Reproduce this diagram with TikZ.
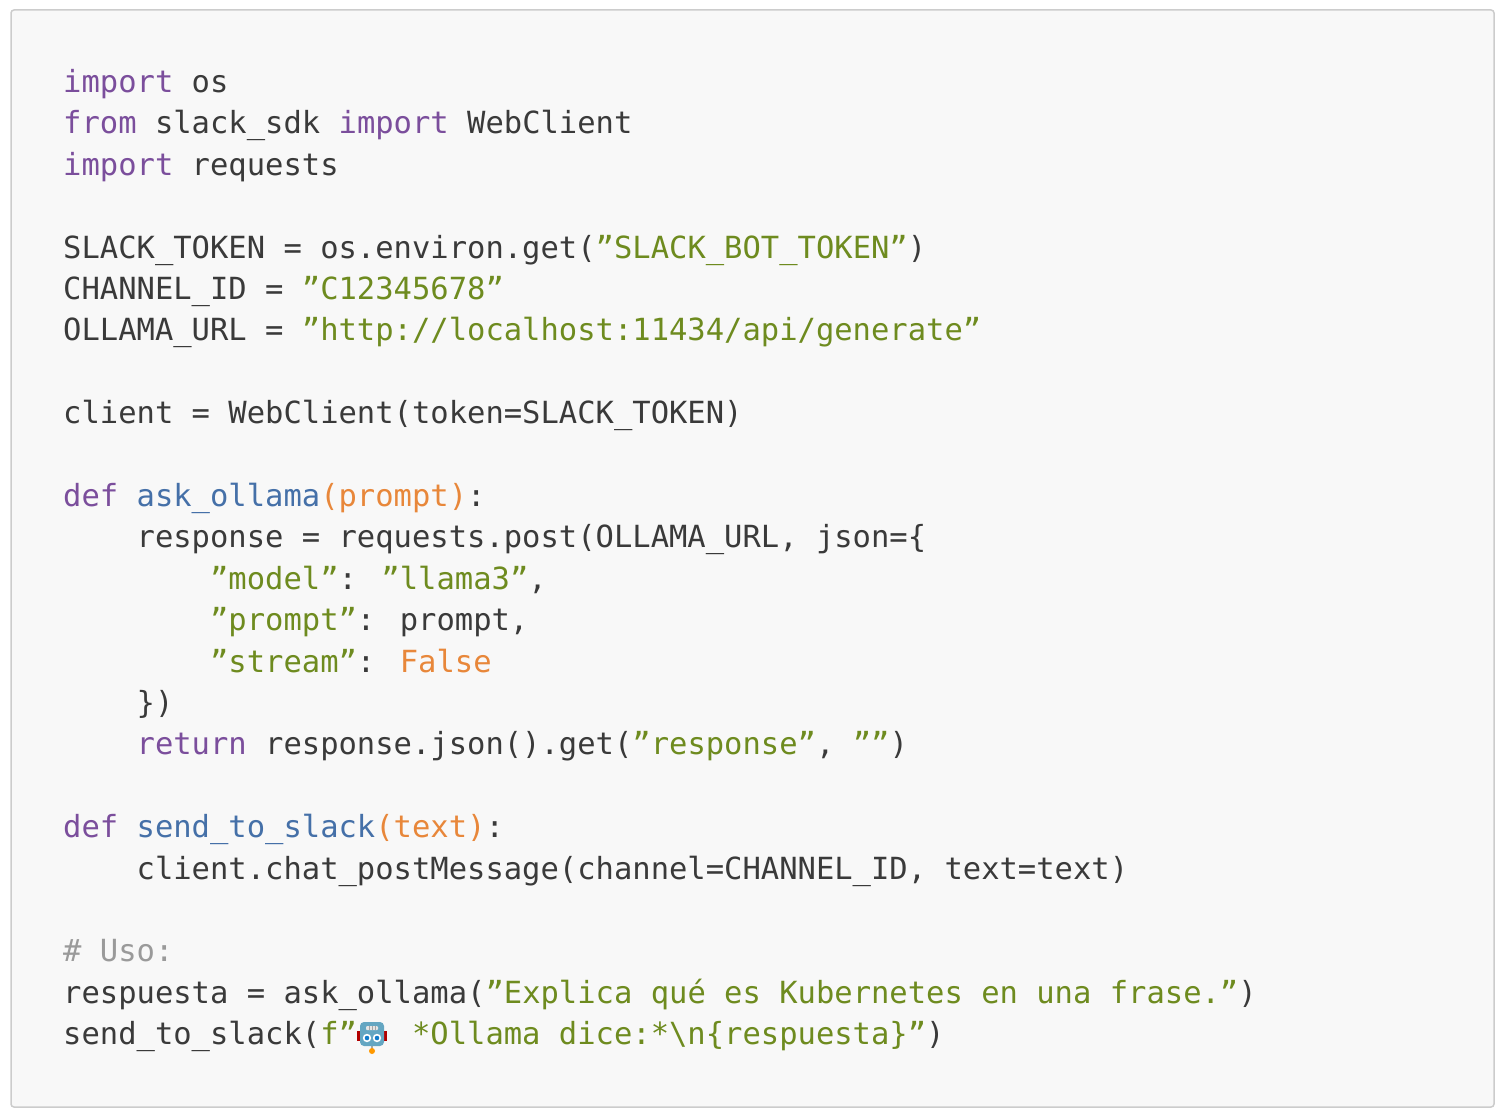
\documentclass[tikz,border=0pt]{standalone}
\usepackage{fontspec}
\setmainfont{DejaVu Sans Mono}
\definecolor{bgc}{HTML}{F8F8F8}
\definecolor{brc}{HTML}{CCCCCC}
\definecolor{ckw}{HTML}{7B4E9C}
\definecolor{cfn}{HTML}{4570A8}
\definecolor{car}{HTML}{E8873A}
\definecolor{cst}{HTML}{6E8B1F}
\definecolor{ccm}{HTML}{9A9A9A}
\definecolor{ctx}{HTML}{3A3A3A}
\newcommand{\mkw}[1]{\textcolor{ckw}{#1}}
\newcommand{\mfn}[1]{\textcolor{cfn}{#1}}
\newcommand{\mar}[1]{\textcolor{car}{#1}}
\newcommand{\mst}[1]{\textcolor{cst}{#1}}
\newcommand{\mcm}[1]{\textcolor{ccm}{#1}}
\newcommand{\mind}[1]{\hspace*{#1\dimexpr 18.361pt\relax}}
\begin{document}
\begin{tikzpicture}[x=1pt,y=1pt,
  code/.style={anchor=base west,inner sep=0pt,text=ctx,font=\fontsize{30.5}{41.4}\selectfont}]
\useasboundingbox (0,0) rectangle (1504,-1118);
\draw[brc,fill=bgc,line width=1.5pt,rounded corners=3pt] (11,-10) rectangle (1494,-1107);
\def\L#1#2{\node[code] (l#1) at (63,{-92.4-(#1-1)*41.4}) {#2};}
\L{1}{\mkw{import} os}
\L{2}{\mkw{from} slack\_sdk \mkw{import} WebClient}
\L{3}{\mkw{import} requests}
\L{5}{SLACK\_TOKEN = os.environ.get(\mst{"SLACK\_BOT\_TOKEN"})}
\L{6}{CHANNEL\_ID = \mst{"C12345678"}}
\L{7}{OLLAMA\_URL = \mst{"http://localhost:11434/api/generate"}}
\L{9}{client = WebClient(token=SLACK\_TOKEN)}
\L{11}{\mkw{def} \mfn{ask\_ollama}\mar{(prompt)}:}
\L{12}{\mind{4}response = requests.post(OLLAMA\_URL, json=\{}
\L{13}{\mind{8}\mst{"model"}: \mst{"llama3"},}
\L{14}{\mind{8}\mst{"prompt"}: prompt,}
\L{15}{\mind{8}\mst{"stream"}: \mar{False}}
\L{16}{\mind{4}\})}
\L{17}{\mind{4}\mkw{return} response.json().get(\mst{"response"}, \mst{""})}
\L{19}{\mkw{def} \mfn{send\_to\_slack}\mar{(text)}:}
\L{20}{\mind{4}client.chat\_postMessage(channel=CHANNEL\_ID, text=text)}
\L{22}{\mcm{\# Uso:}}
\L{23}{respuesta = ask\_ollama(\mst{"Explica qué es Kubernetes en una frase."})}
\L{24}{send\_to\_slack(\mst{f"\mind{2} *Ollama dice:*\textbackslash n\{respuesta\}"})}
% robot emoji
\begin{scope}[shift={(372,-1035)}]
  \fill[red!70!black] (-15,-6) rectangle (-12,4);
  \fill[red!70!black] (12,-6) rectangle (15,4);
  \draw[gray!70,line width=1.5pt] (0,-11) -- (0,-15);
  \fill[orange!80!yellow] (0,-16) circle (3);
  \fill[cyan!50!gray,rounded corners=4pt] (-12,-11) rectangle (12,13);
  \fill[white] (-5,-3) circle (4.2); \fill[white] (5,-3) circle (4.2);
  \fill[cyan!60!blue] (-5,-3) circle (2.3); \fill[cyan!60!blue] (5,-3) circle (2.3);
  \fill[gray!20,rounded corners=1pt] (-6,5) rectangle (6,9);
  \foreach \i in {-3,0,3}{\draw[gray!70] (\i,5)--(\i,9);}
\end{scope}
\end{tikzpicture}
\end{document}
